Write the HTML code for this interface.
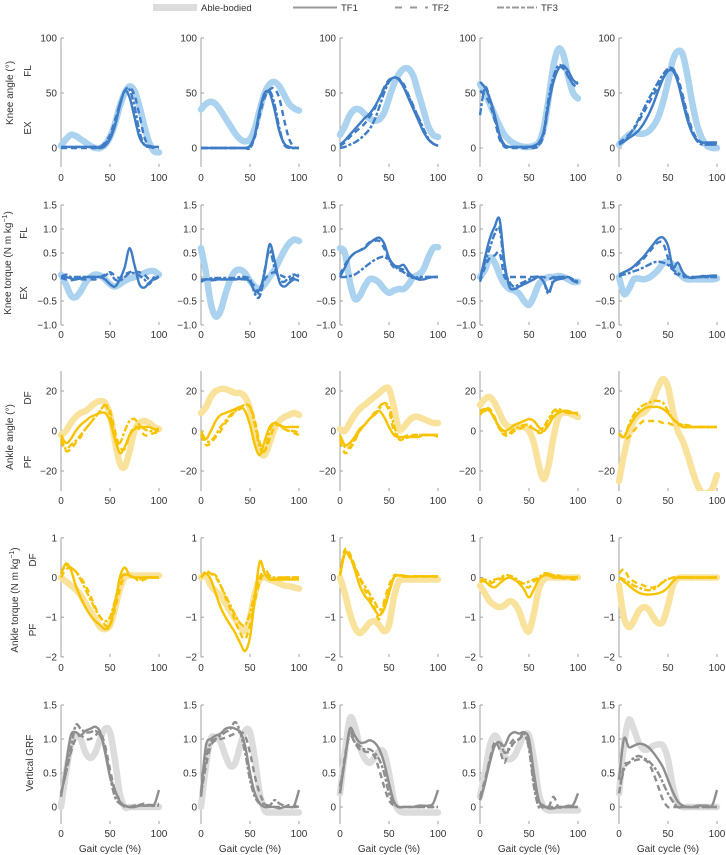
<!DOCTYPE html>
<html><head><meta charset="utf-8">
<style>
html,body{margin:0;padding:0;background:#fff;}
svg{display:block;font-family:"Liberation Sans",sans-serif;}
.tk{font-size:10px;fill:#333;}
</style></head>
<body>
<svg id="fig" width="726" height="855" viewBox="0 0 726 855">
  <g>
    <rect x="153" y="4" width="44" height="7" fill="#dcdcdc"/>
    <text x="201" y="11" font-size="9.5" fill="#333">Able-bodied</text>
    <line x1="293" y1="7.5" x2="337" y2="7.5" stroke="#999" stroke-width="2"/>
    <text x="341" y="11" font-size="9.5" fill="#333">TF1</text>
    <line x1="395" y1="7.5" x2="428" y2="7.5" stroke="#999" stroke-width="2" stroke-dasharray="7,8"/>
    <text x="432" y="11" font-size="9.5" fill="#333">TF2</text>
    <line x1="497" y1="7.5" x2="537" y2="7.5" stroke="#999" stroke-width="2" stroke-dasharray="7,2,4,2"/>
    <text x="541" y="11" font-size="9.5" fill="#333">TF3</text>
  </g>
  <g>
    <text transform="translate(13,93) rotate(-90)" text-anchor="middle" font-size="10" fill="#333">Knee angle (°)</text>
    <text transform="translate(31,71) rotate(-90)" text-anchor="middle" font-size="10" fill="#333">FL</text>
    <text transform="translate(31,128) rotate(-90)" text-anchor="middle" font-size="10" fill="#333">EX</text>
    <text transform="translate(11,263) rotate(-90)" text-anchor="middle" font-size="10" fill="#333">Knee torque (N m kg<tspan font-size="7" dy="-4">−1</tspan><tspan dy="4">)</tspan></text>
    <text transform="translate(27,233) rotate(-90)" text-anchor="middle" font-size="10" fill="#333">FL</text>
    <text transform="translate(27,293) rotate(-90)" text-anchor="middle" font-size="10" fill="#333">EX</text>
    <text transform="translate(13,437) rotate(-90)" text-anchor="middle" font-size="10" fill="#333">Ankle angle (°)</text>
    <text transform="translate(31,398) rotate(-90)" text-anchor="middle" font-size="10" fill="#333">DF</text>
    <text transform="translate(31,462) rotate(-90)" text-anchor="middle" font-size="10" fill="#333">PF</text>
    <text transform="translate(18,600) rotate(-90)" text-anchor="middle" font-size="10" fill="#333">Ankle torque (N m kg<tspan font-size="7" dy="-4">−1</tspan><tspan dy="4">)</tspan></text>
    <text transform="translate(36,560) rotate(-90)" text-anchor="middle" font-size="10" fill="#333">DF</text>
    <text transform="translate(36,630) rotate(-90)" text-anchor="middle" font-size="10" fill="#333">PF</text>
    <text transform="translate(33,763) rotate(-90)" text-anchor="middle" font-size="10" fill="#333">Vertical GRF</text>
  </g>
</svg>
<script>
const xPct = [0,5,10,15,20,25,30,35,40,45,50,55,60,65,70,75,80,85,90,95,100];
const xTicks = [0,50,100];
const seriesNames = ['able-bodied','tf1','tf2','tf3'];

// Knee angle (deg)
const kneeAngleAB = [
 [2,8,12,11,8,5,2,0,0,3,10,22,38,50,56,52,38,20,5,-3,-4],
 [35,40,42,40,34,27,20,13,8,6,8,18,35,50,58,60,56,48,40,36,34],
 [12,20,30,35,35,31,27,25,26,32,45,58,67,72,72,65,50,35,20,12,10],
 [58,50,40,30,20,12,7,4,2,1,1,2,5,18,45,75,90,85,65,50,45],
 [3,8,12,14,13,13,15,20,28,42,60,80,88,85,65,40,20,8,2,0,0]];
const kneeAngleTF1 = [
 [1,1,1,1,1,1,1,1,0,2,8,20,38,52,46,28,10,3,2,1,1],
 [0,0,0,0,0,0,0,0,0,0,2,12,35,50,50,35,15,4,1,0,0],
 [3,7,12,17,22,27,31,37,45,54,61,64,62,55,45,35,25,15,8,4,2],
 [60,55,45,30,12,3,1,1,1,1,1,2,5,15,40,60,72,75,70,62,58],
 [4,6,9,12,16,22,30,40,52,63,70,70,60,42,25,13,7,5,5,5,5]];
const kneeAngleTF2 = [
 [0,0,0,0,0,0,0,0,1,5,12,25,40,52,55,48,30,10,2,0,0],
 [0,0,0,0,0,0,0,0,0,0,0,10,30,46,53,54,45,25,8,1,0],
 [2,5,10,14,18,22,28,35,45,55,62,64,63,58,48,38,27,16,8,4,2],
 [52,48,40,25,8,1,0,0,0,0,0,0,2,12,40,62,73,72,65,58,55],
 [5,8,12,17,24,32,40,48,56,64,70,72,64,48,30,16,8,5,4,3,3]];
const kneeAngleTF3 = [
 [1,1,1,1,1,1,1,1,1,4,10,22,40,52,53,38,15,3,1,1,1],
 [0,0,0,0,0,0,0,0,0,0,0,12,34,48,52,40,18,3,0,0,0],
 [0,1,3,5,8,12,17,25,37,50,60,64,63,56,47,37,28,18,9,4,2],
 [30,55,45,28,10,2,1,1,1,1,1,1,3,15,45,65,75,73,66,58,60],
 [3,6,11,18,26,35,44,52,60,67,72,72,62,45,28,14,6,3,3,3,3]];

// Knee torque (N m/kg)
const kneeTorqueAB = [
 [0.05,-0.15,-0.38,-0.42,-0.3,-0.12,0,0.05,0.03,-0.05,-0.15,-0.2,-0.15,-0.08,-0.03,0,0.03,0.08,0.12,0.12,0.05],
 [0.6,0.1,-0.55,-0.82,-0.7,-0.35,-0.05,0.12,0.15,0.08,-0.08,-0.2,-0.25,-0.15,0,0.15,0.35,0.55,0.7,0.78,0.75],
 [0.6,0.5,-0.1,-0.45,-0.4,-0.2,-0.05,-0.05,-0.12,-0.25,-0.33,-0.28,-0.25,-0.25,-0.15,0,0.05,0.15,0.4,0.6,0.62],
 [0,0.15,0.4,0.3,0.05,-0.15,-0.25,-0.28,-0.35,-0.5,-0.58,-0.4,-0.15,-0.05,0,0,0.02,0,-0.05,-0.1,-0.1],
 [0,-0.35,-0.25,-0.05,-0.03,-0.05,-0.02,0.05,0.15,0.28,0.32,0.25,0.12,0,-0.05,-0.05,-0.05,-0.05,-0.05,-0.05,-0.03]];
const kneeTorqueTF1 = [
 [0,0,-0.03,-0.05,-0.03,0,0,0,0,-0.05,-0.15,-0.2,-0.05,0.2,0.6,0.25,-0.15,-0.22,-0.12,-0.03,0],
 [-0.05,-0.05,-0.05,-0.05,-0.05,-0.05,-0.05,-0.05,-0.04,-0.03,-0.1,-0.3,-0.25,0.1,0.68,0.35,-0.1,-0.2,-0.12,-0.05,-0.08],
 [0,0.2,0.4,0.5,0.55,0.6,0.7,0.78,0.82,0.7,0.4,0.25,0.22,0.25,0.1,0,-0.05,-0.05,-0.02,0,0],
 [-0.05,0.4,0.8,1.05,1.2,0.3,-0.2,-0.25,-0.2,-0.15,-0.1,-0.05,0,-0.1,-0.3,-0.1,-0.05,-0.03,0,-0.08,-0.12],
 [0.05,0.1,0.15,0.22,0.32,0.42,0.55,0.68,0.8,0.82,0.65,0.2,0.3,0.1,0,-0.02,0,0.02,0.02,0.03,0.03]];
const kneeTorqueTF2 = [
 [-0.02,-0.05,-0.07,-0.05,-0.05,-0.05,-0.05,-0.05,0,0.05,0.1,0.03,-0.02,0.05,0.1,0.12,0.1,0.05,-0.05,-0.05,0],
 [-0.08,-0.05,-0.07,-0.06,-0.05,-0.05,-0.05,-0.05,-0.05,-0.05,-0.1,-0.2,-0.35,-0.05,0.05,0.1,0.05,0,-0.05,0,0.05],
 [0.05,0.25,0.4,0.5,0.55,0.62,0.72,0.75,0.75,0.6,0.35,0.2,0.18,0.15,0.05,-0.02,-0.03,-0.02,0,0,0],
 [-0.1,0.2,0.4,0.45,0.5,0,0,0,0,0,0,0,0,0,-0.05,0,0,0,0,-0.05,-0.1],
 [0,0.08,0.15,0.2,0.28,0.38,0.5,0.62,0.72,0.7,0.4,0.12,0.05,0,0,0,0,0,0,0,0]];
const kneeTorqueTF3 = [
 [0,0.05,0,0,0,0,0,0,0,0.03,0.08,-0.05,-0.08,0,0.08,0.08,0.03,-0.05,-0.15,0,0],
 [-0.1,-0.05,-0.03,-0.02,-0.02,-0.02,-0.02,-0.02,0,0,-0.05,-0.35,-0.4,0.15,0.55,0.2,-0.05,-0.1,0,0.05,0],
 [0,0,0.02,0.05,0.12,0.2,0.28,0.35,0.4,0.42,0.35,0.25,0.15,0.1,0.02,-0.02,0,0,0,0,0],
 [-0.05,0.3,0.6,0.9,1.0,0.2,-0.1,-0.2,-0.15,-0.1,-0.05,0,0,-0.1,-0.35,-0.05,0,0,0,-0.05,-0.1],
 [0.05,0.05,0.08,0.12,0.15,0.2,0.25,0.3,0.32,0.3,0.25,0.15,0.08,0.03,0,0,0,0,0,0,0]];

// Ankle angle (deg)
const ankleAngleAB = [
 [-2,0,4,7,9,10,12,14,15,14,8,-5,-16,-18,-10,0,4,5,4,2,1],
 [9,12,17,20,21,21,20,19,19,17,11,0,-10,-12,-6,1,5,7,8,9,8],
 [1,0,4,8,11,13,15,17,19,21,21,12,1,2,5,7,7,6,5,4,4],
 [13,16,17,14,9,4,2,2,2,2,0,-6,-17,-24,-17,-3,7,9,9,8,7],
 [-25,-12,-2,5,8,9,12,16,22,26,22,10,0,-5,-12,-20,-27,-31,-31,-29,-22]];
const ankleAngleTF1 = [
 [-2,-6,-4,0,3,5,7,8,9,9,5,-4,-11,-8,-2,1,2,2,2,1,1],
 [0,-4,0,5,8,9,10,11,12,10,3,-7,-12,-5,2,4,3,2,2,2,2],
 [-2,-7,-6,-3,1,3,6,8,10,7,2,-2,-3,-3,-3,-3,-3,-2,-2,-2,-2],
 [10,11,10,6,2,0,1,3,4,5,6,5,2,0,3,7,9,10,10,9,9],
 [-1,-3,2,6,9,11,12,12,12,11,9,6,4,2,2,2,2,2,2,2,2]];
const ankleAngleTF2 = [
 [-5,-10,-9,-6,-3,1,4,7,10,13,10,0,-8,-9,-2,2,1,-2,-2,-1,-1],
 [-2,-7,-6,-3,0,4,7,10,11,13,12,5,-6,-10,-4,2,3,1,0,-1,-2],
 [-5,-11,-9,-5,0,3,6,9,12,14,10,0,-3,-3,-2,-2,-2,-2,-2,-2,-3],
 [8,11,11,7,1,-2,-2,0,1,2,2,1,-1,0,4,9,10,10,9,9,9],
 [-1,-4,-3,0,3,5,5,5,5,4,4,3,3,3,2,2,2,2,2,2,2]];
const ankleAngleTF3 = [
 [-4,-9,-7,-5,-2,1,4,7,10,13,8,-3,-6,0,5,6,3,1,0,0,0],
 [-2,-5,-5,-2,2,5,8,10,12,13,12,3,-8,-10,0,4,3,1,0,0,-1],
 [-3,-8,-8,-4,0,3,6,8,11,14,12,3,-4,-4,-3,-2,-2,-2,-2,-2,-2],
 [9,10,10,6,1,-1,-1,1,2,3,3,1,0,2,6,10,11,10,9,9,8],
 [-1,-3,3,8,11,13,14,15,15,14,10,6,4,3,3,2,2,2,2,2,2]];

// Ankle torque (N m/kg)
const ankleTorqueAB = [
 [0,-0.1,-0.2,-0.3,-0.45,-0.65,-0.85,-1.05,-1.25,-1.3,-1.2,-0.8,-0.3,0,0.05,0.05,0.05,0.05,0.05,0.05,0.05],
 [0,0.05,-0.2,-0.35,-0.45,-0.65,-0.85,-1.05,-1.25,-1.35,-1.0,-0.4,-0.05,0,-0.05,-0.1,-0.15,-0.2,-0.22,-0.25,-0.28],
 [0,-0.4,-0.9,-1.25,-1.4,-1.3,-1.15,-1.1,-1.2,-1.35,-1.2,-0.5,-0.1,-0.05,-0.05,-0.05,-0.05,-0.05,-0.05,-0.05,-0.05],
 [-0.2,-0.4,-0.6,-0.7,-0.75,-0.7,-0.6,-0.65,-0.85,-1.2,-1.35,-0.9,-0.3,-0.05,0,0,0,0,0,0,0],
 [-0.2,-1.0,-1.25,-1.1,-0.85,-0.75,-0.8,-1.0,-1.15,-1.1,-0.7,-0.2,-0.02,0,0,0,0,0,0,0,0]];
const ankleTorqueTF1 = [
 [0.1,0.35,0.2,-0.2,-0.5,-0.75,-0.95,-1.1,-1.2,-1.3,-1.2,-0.7,0,0.25,0.05,0,0,0,0,0,0],
 [0,0.1,-0.05,-0.4,-0.75,-1.0,-1.2,-1.4,-1.65,-1.85,-1.5,-0.5,0.4,0.1,-0.05,-0.05,-0.05,-0.05,-0.05,-0.05,-0.05],
 [0.05,0.6,0.55,0.2,-0.2,-0.45,-0.6,-0.8,-0.95,-0.8,-0.4,0,0.05,0.05,0.02,0.03,0.03,0.03,0.03,0.03,0.03],
 [-0.05,-0.1,-0.2,-0.25,-0.15,-0.05,0,-0.05,-0.15,-0.3,-0.5,-0.3,-0.05,0.05,0.05,0,0,0,0,0,0],
 [0,-0.1,-0.2,-0.3,-0.38,-0.42,-0.43,-0.42,-0.4,-0.35,-0.25,-0.1,0,0,0,0,0,0,0,0,0]];
const ankleTorqueTF2 = [
 [0,0.2,0.25,0.15,0,-0.2,-0.45,-0.75,-1.0,-1.2,-1.2,-0.8,-0.3,0.05,0.05,0,-0.1,-0.05,0,0,0],
 [0,0.15,0.1,0,-0.2,-0.5,-0.8,-1.1,-1.4,-1.55,-1.2,-0.6,-0.1,0.1,0,-0.05,0,0,0,0,0],
 [0.1,0.7,0.6,0.3,0,-0.3,-0.5,-0.75,-1.05,-0.6,-0.2,0.05,0.05,0.02,0.02,0.02,0.02,0.02,0.02,0.02,0.02],
 [-0.1,-0.1,-0.15,-0.1,-0.05,0,0,-0.05,-0.12,-0.2,-0.25,-0.1,0,0.05,0.1,0.05,0,-0.02,-0.03,-0.05,-0.05],
 [0.1,0.2,0,-0.1,-0.15,-0.2,-0.25,-0.25,-0.2,-0.12,-0.05,0,0,0,0,0,0,0,0,0,0]];
const ankleTorqueTF3 = [
 [0.1,0.3,0.25,0.15,-0.05,-0.3,-0.55,-0.8,-1.0,-1.1,-1.0,-0.6,-0.1,0.1,0.05,0,-0.05,0,0,0,0],
 [0,0.15,0.1,0.05,-0.2,-0.45,-0.7,-0.95,-1.15,-1.2,-0.9,-0.4,0,0.2,0.05,0,0,0,0,0,0],
 [0.05,0.65,0.5,0.25,0,-0.2,-0.4,-0.6,-0.8,-0.7,-0.3,0,0.05,0.03,0.03,0.03,0.03,0.03,0.03,0.03,0.03],
 [-0.05,-0.05,-0.1,-0.05,-0.02,0.05,0.05,0,-0.1,-0.15,-0.1,-0.05,0,0.1,0.1,0.05,0.05,0,0,0,0],
 [0,-0.05,-0.12,-0.2,-0.25,-0.3,-0.32,-0.3,-0.22,-0.1,-0.05,0,0,0,0,0,0,0,0,0,0]];

// Vertical GRF (body weight)
const grfAB = [
 [0,0.5,0.9,1.05,1.0,0.8,0.72,0.8,1.0,1.15,1.1,0.7,0.2,0,0,0,0,0,0,0,0],
 [0,0.6,1.0,1.02,0.95,0.75,0.6,0.65,0.9,1.12,1.1,0.7,0.2,-0.05,-0.08,-0.08,-0.08,-0.08,-0.08,-0.08,-0.08],
 [0.2,0.8,1.3,1.2,0.9,0.72,0.65,0.72,0.82,0.8,0.5,0.1,-0.05,-0.08,-0.08,-0.08,-0.08,-0.08,-0.08,-0.08,-0.08],
 [0.15,0.5,0.9,1.05,0.95,0.75,0.7,0.75,0.9,1.05,1.05,0.7,0.2,0,-0.05,-0.05,-0.05,-0.05,-0.05,-0.05,-0.05],
 [0.2,0.9,1.28,1.15,0.95,0.85,0.85,0.9,0.92,0.9,0.7,0.3,0.05,0,0,0,0,0,0,0,0]];
const grfTF1 = [
 [0.15,0.6,1.05,1.1,1.05,1.12,1.15,1.18,1.1,0.8,0.45,0.25,0.08,0.02,0,0,0.02,0.02,0.03,0.03,0.25],
 [0.2,0.9,1.0,1.05,1.08,1.15,1.17,1.15,1.1,0.9,0.5,0.2,0.05,0,0,0,-0.02,0,0,0.02,0.25],
 [0.2,0.7,1.15,1.05,0.95,0.95,0.98,0.95,0.85,0.65,0.35,0.08,0,0,0,0,0.02,0.02,0.02,0.05,0.25],
 [0.1,0.35,0.65,0.9,0.95,0.9,1.05,1.1,1.08,1.1,1.0,0.5,0.1,0.02,-0.02,-0.02,0,0,0.02,0.03,0.2],
 [0.4,1.0,0.88,0.9,0.93,0.92,0.88,0.8,0.7,0.58,0.4,0.22,0.08,0.02,0,0,0.02,0.02,0.02,0.02,0.25]];
const grfTF2 = [
 [0.2,0.5,0.8,1.0,1.05,1.0,1.0,1.05,1.1,0.9,0.55,0.25,0.1,0,0,0.02,0.03,0.05,0.03,0.03,0.05],
 [0.2,0.6,0.9,0.98,1.0,1.02,1.05,1.08,1.1,1.05,0.8,0.45,0.2,0.05,0,0,0,0,0.03,0.02,0],
 [0.2,0.75,1.05,0.95,0.9,0.82,0.8,0.75,0.55,0.3,0.1,0.02,0,0,0,0,0,0,0,0,0],
 [0.15,0.4,0.7,0.95,0.85,0.65,0.9,1.0,1.0,1.05,0.9,0.4,0.05,0,0,0.15,0,0,0,0,0],
 [0.2,0.6,0.65,0.68,0.7,0.7,0.65,0.5,0.3,0.1,0,0,0,0,0,0,0,0,0,0,0]];
const grfTF3 = [
 [0.2,0.5,0.85,1.2,1.15,1.1,1.1,1.12,1.05,0.85,0.45,0.15,0.05,0.02,0,0.02,0.02,0.02,0.02,0.02,0.02],
 [0.15,0.7,0.95,1.0,1.05,1.1,1.15,1.25,1.1,0.8,0.4,0.15,0.05,0.05,0.02,0.1,0.05,0.02,0,0,0],
 [0.3,0.7,1.1,0.95,0.85,0.85,0.85,0.8,0.7,0.5,0.2,0.05,0,0,0,0,0,0,0,0,0],
 [0.1,0.35,0.7,0.9,0.95,0.8,0.85,0.95,1.0,1.08,0.85,0.3,0,0,0,0,0,0,0,0,0],
 [0.2,0.55,0.65,0.72,0.75,0.72,0.68,0.6,0.5,0.35,0.2,0.08,0,0,0,0,0,0,0,0,0]];

const kneeAngleTicks = [0,50,100];
const kneeTorqueTicks = [-1.0,-0.5,0,0.5,1.0,1.5];
const ankleAngleTicks = [-20,0,20];
const ankleTorqueTicks = [-2,-1,0,1];
const grfTicks = [0,0.5,1.0,1.5];

const NS = 'http://www.w3.org/2000/svg';
const svg = document.getElementById('fig');
const colX0 = [61,201,340,480,619];
const plotW = 98;
const fmtDec = v => v===0 ? '0' : (v<0?'−':'')+Math.abs(v).toFixed(1);
const fmtInt = v => (v<0?'−':'')+Math.abs(v);
const rows = [
 {key:'knee-angle', ab:kneeAngleAB, t1:kneeAngleTF1, t2:kneeAngleTF2, t3:kneeAngleTF3, ticks:kneeAngleTicks, fmt:fmtInt,
  y0:148, ppu:1.1, ymin:-17, ymax:100, light:'#abd2ef', dark:'#3f7cc6', xlab:181},
 {key:'knee-torque', ab:kneeTorqueAB, t1:kneeTorqueTF1, t2:kneeTorqueTF2, t3:kneeTorqueTF3, ticks:kneeTorqueTicks, fmt:fmtDec,
  y0:277, ppu:48, ymin:-1.0, ymax:1.5, light:'#abd2ef', dark:'#3f7cc6', xlab:338},
 {key:'ankle-angle', ab:ankleAngleAB, t1:ankleAngleTF1, t2:ankleAngleTF2, t3:ankleAngleTF3, ticks:ankleAngleTicks, fmt:fmtInt,
  y0:431, ppu:2, ymin:-30, ymax:30, light:'#f9e39c', dark:'#f7c300', xlab:504},
 {key:'ankle-torque', ab:ankleTorqueAB, t1:ankleTorqueTF1, t2:ankleTorqueTF2, t3:ankleTorqueTF3, ticks:ankleTorqueTicks, fmt:fmtInt,
  y0:577.5, ppu:39.7, ymin:-2, ymax:1, light:'#f9e39c', dark:'#f7c300', xlab:671},
 {key:'grf', ab:grfAB, t1:grfTF1, t2:grfTF2, t3:grfTF3, ticks:grfTicks, fmt:fmtDec,
  y0:807, ppu:68, ymin:-0.25, ymax:1.5, light:'#dcdcdc', dark:'#8e8e8e', xlab:837}
];

function el(tag, attrs, parent){
  const e = document.createElementNS(NS, tag);
  for (const k in attrs) e.setAttribute(k, attrs[k]);
  parent.appendChild(e);
  return e;
}
function smoothPath(pts){
  let d = 'M'+pts[0][0].toFixed(2)+','+pts[0][1].toFixed(2);
  for (let i=0;i<pts.length-1;i++){
    const p0 = pts[i-1]||pts[i], p1=pts[i], p2=pts[i+1], p3=pts[i+2]||pts[i+1];
    const c1x = p1[0]+(p2[0]-p0[0])/6, c1y = p1[1]+(p2[1]-p0[1])/6;
    const c2x = p2[0]-(p3[0]-p1[0])/6, c2y = p2[1]-(p3[1]-p1[1])/6;
    d += ' C'+c1x.toFixed(2)+','+c1y.toFixed(2)+' '+c2x.toFixed(2)+','+c2y.toFixed(2)+' '+p2[0].toFixed(2)+','+p2[1].toFixed(2);
  }
  return d;
}
const defs = el('defs', {}, svg);

rows.forEach((r, ri) => {
  colX0.forEach((x0, ci) => {
    const xs = v => x0 + v/100*plotW;
    const ys = v => r.y0 - v*r.ppu;
    const g = el('g', {}, svg);
    
    
    const cp = el('clipPath', {id:'c'+ri+'_'+ci}, defs);
    el('rect', {x:x0-4, y:ys(r.ymax)-4, width:plotW+8, height:(r.ymax-r.ymin)*r.ppu+4}, cp);
    const ax = el('line', {x1:x0, x2:x0, y1:ys(r.ymax), y2:ys(r.ymin), stroke:'#a0a0a0', 'stroke-width':1}, g);
    
    
    r.ticks.forEach(t => {
      el('line', {x1:x0, x2:x0+3, y1:ys(t), y2:ys(t), stroke:'#a0a0a0', 'stroke-width':1}, g);
      const tl = el('text', {x:x0-4, y:ys(t)+3.5, 'text-anchor':'end', class:'tk'}, g);
      tl.textContent = r.fmt(t);
      
      
    });
    xTicks.forEach(t => {
      el('line', {x1:xs(t), x2:xs(t), y1:ys(r.ymin), y2:ys(r.ymin)-3, stroke:'#a0a0a0', 'stroke-width':1}, g);
      const tl = el('text', {x:xs(t), y:r.xlab, 'text-anchor':'middle', class:'tk'}, g);
      tl.textContent = String(t);
      
      
    });
    if (ri === 4){
      const xt = el('text', {x:x0+plotW/2, y:852, 'text-anchor':'middle', class:'tk'}, g);
      xt.textContent = 'Gait cycle (%)';
      
      
    }
    const lines = el('g', {'clip-path':'url(#c'+ri+'_'+ci+')', fill:'none', 'stroke-linecap':'butt', 'stroke-linejoin':'round'}, g);
    const sets = [r.ab[ci], r.t1[ci], r.t2[ci], r.t3[ci]];
    const styles = [
      {stroke:r.light, 'stroke-width':6.5, 'stroke-linecap':'round'},
      {stroke:r.dark, 'stroke-width':2.4},
      {stroke:r.dark, 'stroke-width':2.4, 'stroke-dasharray':'6,4'},
      {stroke:r.dark, 'stroke-width':2.4, 'stroke-dasharray':'7,2,3,2'}
    ];
    sets.forEach((vals, si) => {
      const pts = vals.map((v,i) => [xs(xPct[i]), ys(v)]);
      const p = el('path', Object.assign({d:smoothPath(pts)}, styles[si]), lines);
      
      
    });
  });
});
</script>
</body></html>
